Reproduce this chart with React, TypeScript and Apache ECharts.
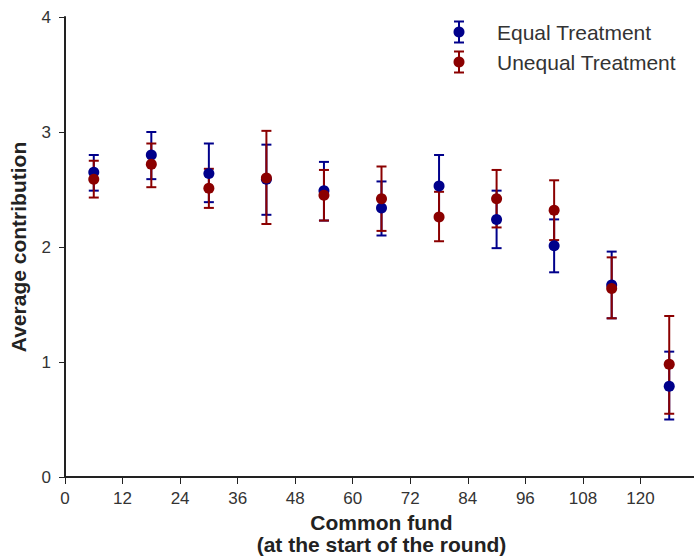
import React, { useEffect, useRef } from "react";
import * as echarts from "echarts";

const fundLevels = [6, 18, 30, 42, 54, 66, 78, 90, 102, 114, 126];
const equalMean = [2.65, 2.8, 2.64, 2.59, 2.49, 2.34, 2.53, 2.24, 2.01, 1.67, 0.79];
const equalLow = [2.49, 2.59, 2.39, 2.28, 2.23, 2.1, 2.26, 1.99, 1.78, 1.38, 0.5];
const equalHigh = [2.8, 3.0, 2.9, 2.89, 2.74, 2.57, 2.8, 2.49, 2.24, 1.96, 1.09];
const unequalMean = [2.59, 2.72, 2.51, 2.6, 2.45, 2.42, 2.26, 2.42, 2.32, 1.64, 0.98];
const unequalLow = [2.43, 2.52, 2.34, 2.2, 2.23, 2.14, 2.05, 2.17, 2.06, 1.38, 0.55];
const unequalHigh = [2.75, 2.9, 2.68, 3.01, 2.67, 2.7, 2.48, 2.67, 2.58, 1.91, 1.4];

const seriesNames = ["Equal Treatment", "Unequal Treatment"];
const BLUE = "#00008B";
const RED = "#8B0000";
const FONT = "Liberation Sans, Arial, sans-serif";

function errorBarSeries(name: string, color: string, low: number[], high: number[]) {
  return {
    name,
    type: "custom",
    data: fundLevels.map((x, i) => [x, low[i], high[i]]),
    encode: { x: 0, y: [1, 2] },
    silent: true,
    z: 2,
    renderItem: (params: any, api: any) => {
      const x = api.value(0);
      const pLo = api.coord([x, api.value(1)]);
      const pHi = api.coord([x, api.value(2)]);
      const hw = 5;
      const st = { stroke: color, lineWidth: 2 };
      return {
        type: "group",
        children: [
          { type: "line", shape: { x1: pLo[0], y1: pLo[1], x2: pHi[0], y2: pHi[1] }, style: st },
          { type: "line", shape: { x1: pLo[0] - hw, y1: pLo[1], x2: pLo[0] + hw, y2: pLo[1] }, style: st },
          { type: "line", shape: { x1: pHi[0] - hw, y1: pHi[1], x2: pHi[0] + hw, y2: pHi[1] }, style: st },
        ],
      };
    },
  };
}

function legendItem(y: number, color: string, label: string) {
  const cx = 459;
  const st = { stroke: color, lineWidth: 2 };
  return {
    type: "group",
    children: [
      { type: "line", shape: { x1: cx, y1: y - 10.5, x2: cx, y2: y + 10.5 }, style: st },
      { type: "line", shape: { x1: cx - 5, y1: y - 10.5, x2: cx + 5, y2: y - 10.5 }, style: st },
      { type: "line", shape: { x1: cx - 5, y1: y + 10.5, x2: cx + 5, y2: y + 10.5 }, style: st },
      { type: "circle", shape: { cx, cy: y, r: 5.5 }, style: { fill: color } },
      {
        type: "text",
        x: 497,
        y,
        style: {
          text: label,
          fill: "#333",
          font: `21px ${FONT}`,
          textVerticalAlign: "middle",
          verticalAlign: "middle",
        },
      },
    ],
  };
}

export default function App() {
  const ref = useRef<HTMLDivElement>(null);
  useEffect(() => {
    const chart = echarts.init(ref.current!, undefined, { renderer: "svg" });
    chart.setOption({
      animation: false,
      backgroundColor: "#fff",
      grid: {
        left: 65,
        top: 17,
        bottom: 79,
        right: -4,
        containLabel: false,
        outerBoundsMode: "none",
      },
      xAxis: {
        type: "value",
        min: 0,
        max: 132,
        interval: 12,
        name: "Common fund\n(at the start of the round)",
        nameLocation: "middle",
        nameGap: 34,
        nameTextStyle: {
          fontFamily: FONT,
          fontSize: 21,
          fontWeight: "bold",
          color: "#222",
          lineHeight: 22,
        },
        axisLine: { show: true, lineStyle: { color: "#222", width: 2 } },
        axisTick: { show: true, length: 7, lineStyle: { color: "#222", width: 1 } },
        axisLabel: { fontFamily: FONT, fontSize: 17, color: "#333", margin: 13, showMaxLabel: false },
        splitLine: { show: false },
      },
      yAxis: {
        type: "value",
        min: 0,
        max: 4,
        interval: 1,
        name: "Average contribution",
        nameLocation: "middle",
        nameRotate: 90,
        nameGap: 36,
        nameTextStyle: { fontFamily: FONT, fontSize: 21, fontWeight: "bold", color: "#222" },
        axisLine: { show: true, lineStyle: { color: "#222", width: 2 } },
        axisTick: { show: true, length: 6, lineStyle: { color: "#222", width: 1 } },
        axisLabel: { fontFamily: FONT, fontSize: 17, color: "#333", margin: 14 },
        splitLine: { show: false },
      },
      series: [
        errorBarSeries(seriesNames[0], BLUE, equalLow, equalHigh),
        errorBarSeries(seriesNames[1], RED, unequalLow, unequalHigh),
        {
          name: seriesNames[0],
          type: "scatter",
          data: fundLevels.map((x, i) => [x, equalMean[i]]),
          symbolSize: 11,
          itemStyle: { color: BLUE, opacity: 1 },
          z: 3,
        },
        {
          name: seriesNames[1],
          type: "scatter",
          data: fundLevels.map((x, i) => [x, unequalMean[i]]),
          symbolSize: 11,
          itemStyle: { color: RED, opacity: 1 },
          z: 4,
        },
      ],
      graphic: [legendItem(32, BLUE, seriesNames[0]), legendItem(62, RED, seriesNames[1])],
    });
    return () => chart.dispose();
  }, []);
  return (
    <div
      ref={ref}
      style={{ position: "fixed", left: 0, top: 0, width: 694, height: 556 }}
    />
  );
}
